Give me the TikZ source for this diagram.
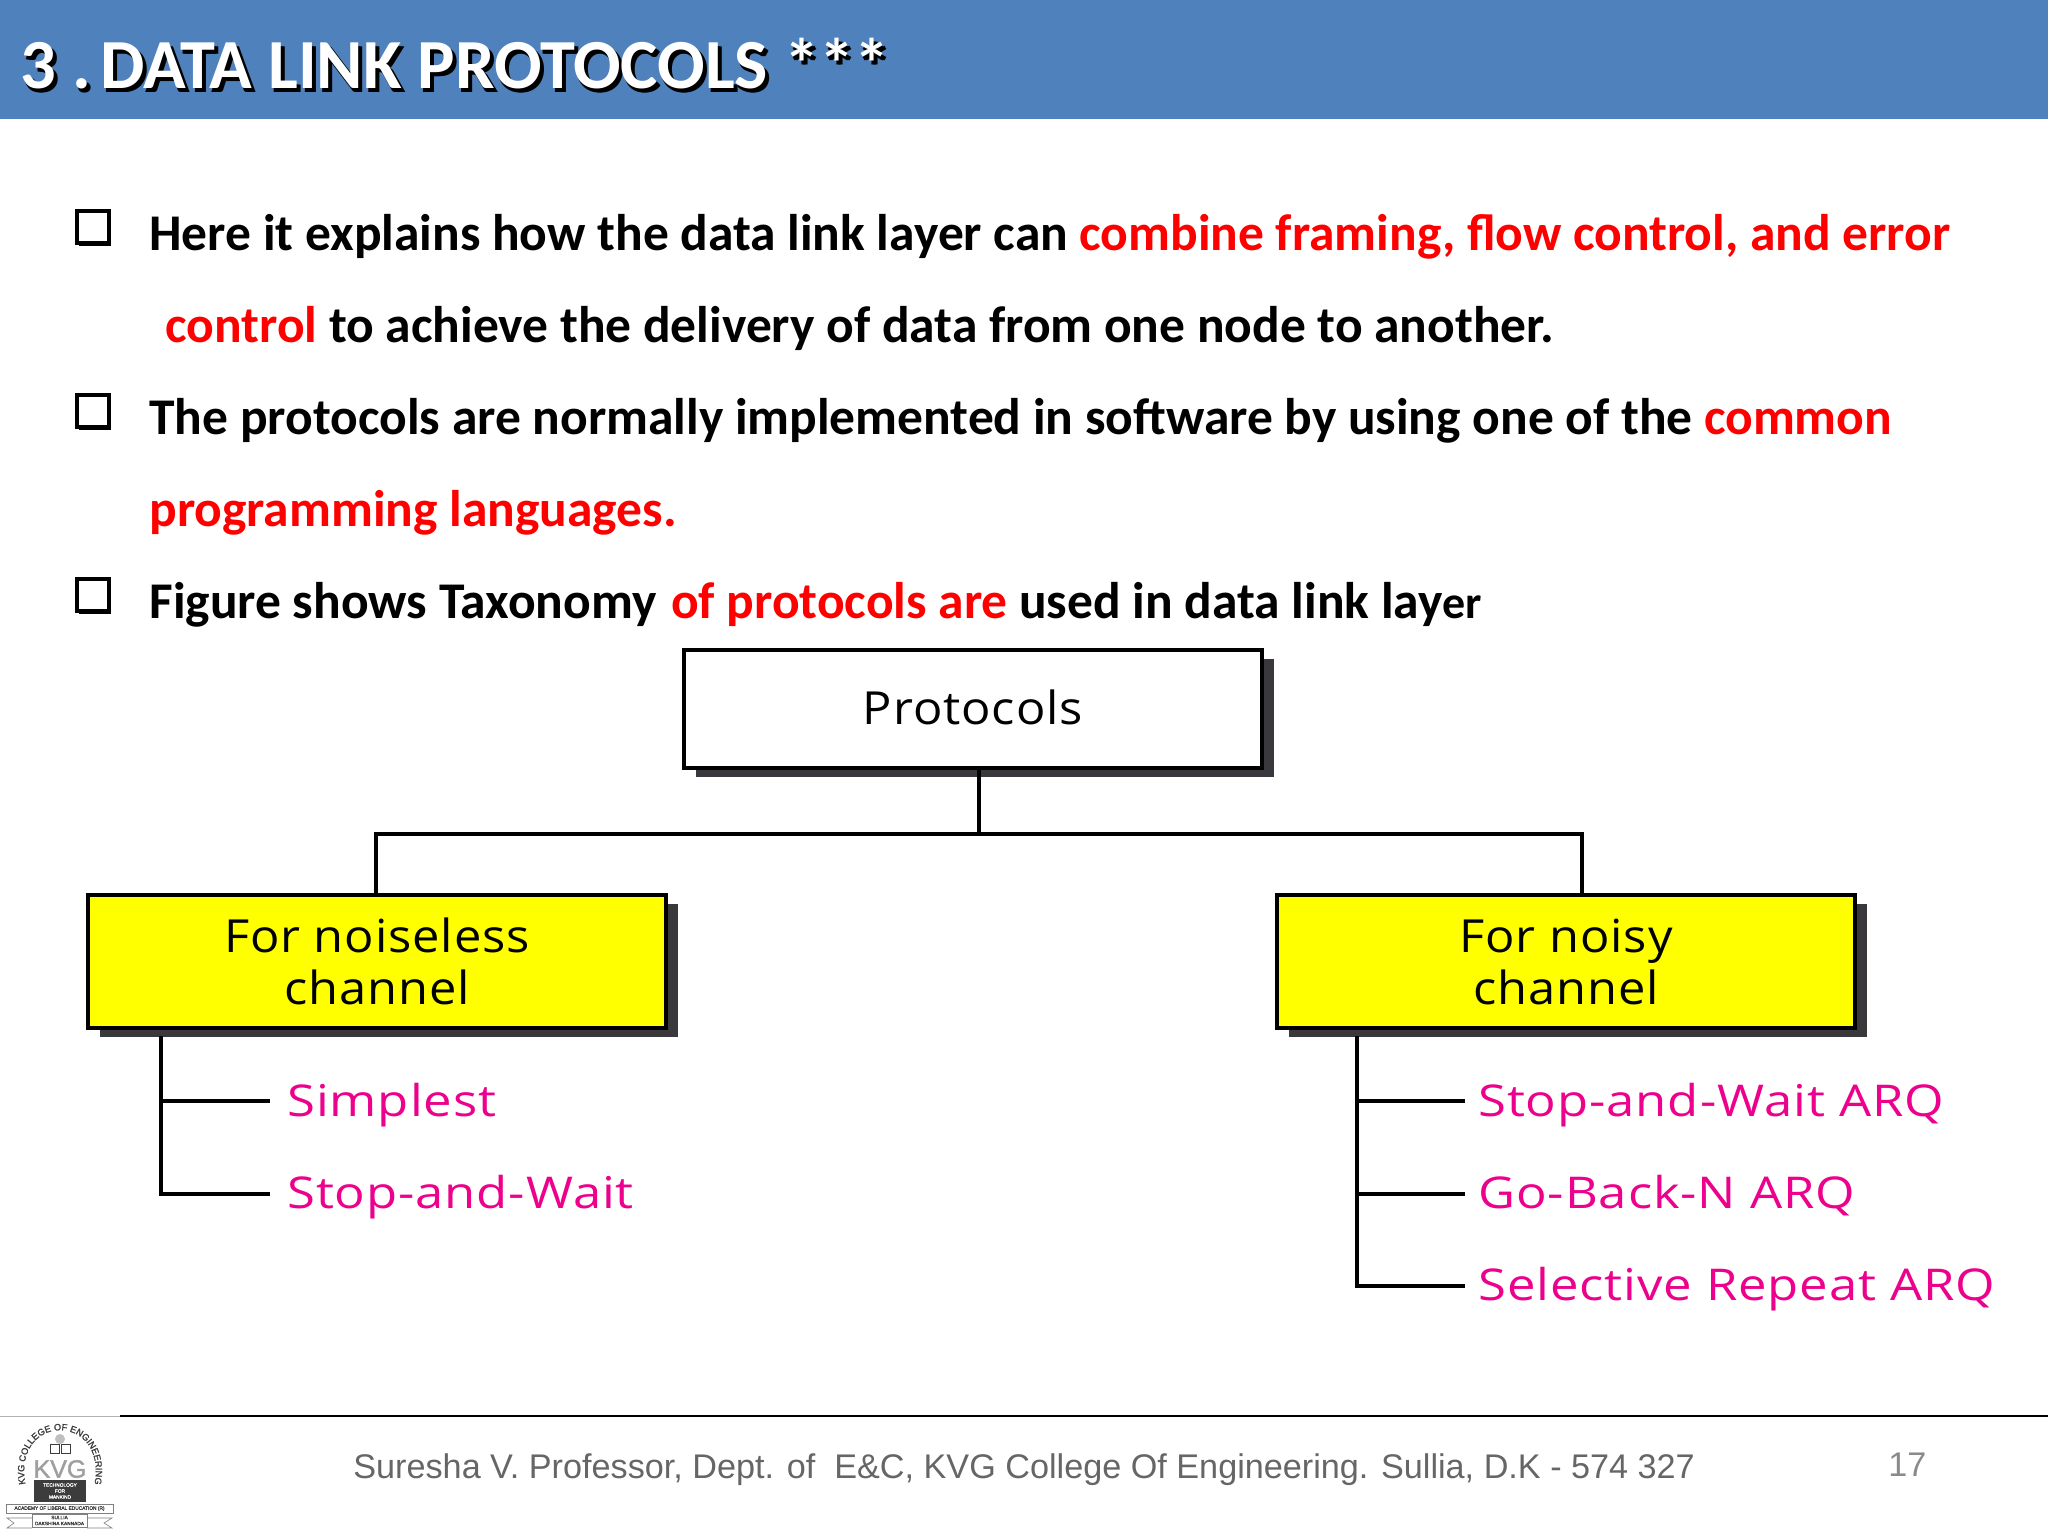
\documentclass[tikz,border=0pt]{standalone}
\usepackage{fontspec}
\usetikzlibrary{shadows,decorations.text}
\setmainfont{Carlito}
\newfontfamily\boxf{Open Sans}[LetterSpace=2,FakeStretch=1.07]
\newfontfamily\leaff{Open Sans}[LetterSpace=2,FakeStretch=1.16]
\newfontfamily\footf{Liberation Sans}
\newfontfamily\logof{Liberation Sans}[FakeBold=1.5]
\newcommand{\titlestr}{3 .\kern-3pt\ DATA LINK PROTOCOLS ***}
\definecolor{bandc}{HTML}{4F81BD}
\definecolor{redt}{HTML}{FF0000}
\definecolor{pinkt}{HTML}{EC008C}
\definecolor{shadowc}{HTML}{3A383C}
\definecolor{yellowc}{HTML}{FFFF00}
\definecolor{footc}{HTML}{666666}
\definecolor{numc}{HTML}{8A8A8A}
\definecolor{logoc}{HTML}{3C3C3C}
\tikzset{
  x=0.5pt,y=-0.5pt,
  bodytext/.style={anchor=base west,inner sep=0pt,font=\fontsize{25.75}{30}\selectfont\bfseries,text=black},
  titletext/.style={anchor=base west,inner sep=0pt,font=\fontsize{35.2}{42}\selectfont\bfseries},
  chartbox/.style={draw=black,line width=2.2pt,minimum width=289pt,align=center,inner sep=0pt,
     font=\boxf\fontsize{22.8}{26}\selectfont,
     drop shadow={shadow xshift=6.2pt,shadow yshift=-4.5pt,opacity=1,fill=shadowc}},
  leaf/.style={anchor=base west,inner sep=0pt,text=pinkt,font=\leaff\fontsize{21.9}{26}\selectfont},
  wire/.style={draw=black,line width=2.4pt},
  bulletbox/.style={draw=black,fill=white,line width=1.8pt,minimum width=16pt,minimum height=16pt,inner sep=0pt,
     drop shadow={shadow xshift=1pt,shadow yshift=-1.6pt,opacity=1,fill=black}},
  logotext/.style={inner sep=0pt,text=logoc,font=\logof\fontsize{2.4}{3}\selectfont},
}
\begin{document}
\begin{tikzpicture}
\useasboundingbox (0,0) rectangle (2048,1536);
\fill[white] (0,0) rectangle (2048,1536);
\fill[bandc] (0,0) rectangle (2048,119);
% title
\node[titletext,text=black] (titleshadeb) at (24,93) {\titlestr};
\node[titletext,text=black] (titleshade) at (22,92) {\titlestr};
\node[titletext,text=white] (title) at (20,89) {\titlestr};
% bullets
\node[bulletbox] (b1) at (93,227) {};
\node[bulletbox] (b2) at (93,411) {};
\node[bulletbox] (b3) at (93,595) {};
% body
\node[bodytext] (l1) at (149,250) {Here it explains how the data link layer can \textcolor{redt}{combine framing, flow control, and error}};
\node[bodytext] (l2) at (165,342) {\textcolor{redt}{control} to achieve the delivery of data from one node to another.};
\node[bodytext] (l3) at (149,434) {The protocols are normally implemented in software by using one of the \textcolor{redt}{common}};
\node[bodytext] (l4) at (149,526) {\textcolor{redt}{programming languages.}};
\node[bodytext] (l5) at (149,618) {Figure shows Taxonomy\kern1.5pt\ \textcolor{redt}{of protocols are} used in data link lay{\fontsize{23}{26}\selectfont er}};
% chart
\node[chartbox,fill=white,minimum height=59pt] (proto) at (973,709) {\raisebox{1.8pt}{Protocols}};
\node[chartbox,fill=yellowc,minimum height=66.5pt] (noiseless) at (377,961.5) {For noiseless\\channel};
\node[chartbox,fill=yellowc,minimum height=66.5pt] (noisy) at (1566,961.5) {For noisy\\channel};
\coordinate (hub) at (979,834);
\coordinate (hl) at (376,834);
\coordinate (hr) at (1582,834);
\draw[wire] (979,768) -- (hub);
\draw[wire,line cap=rect] (hl) -- (hr);
\draw[wire] (hl) -- (376,895);
\draw[wire] (hr) -- (1582,895);
% leaves
\node[leaf] (s1) at (287,1116) {Simplest};
\node[leaf] (s2) at (287,1208) {Stop-and-Wait};
\node[leaf] (n1) at (1478,1116) {Stop-and-Wait ARQ};
\node[leaf] (n2) at (1478,1208) {Go-Back-N ARQ};
\node[leaf] (n3) at (1478,1300) {Selective Repeat ARQ};
\coordinate (ta) at (161,1038);
\coordinate (tb) at (161,1194);
\coordinate (ua) at (1357,1038);
\coordinate (ub) at (1357,1286);
\draw[wire,line cap=rect] (ta) -- (tb);
\draw[wire,line cap=rect] (ua) -- (ub);
\draw[wire] (161,1101) -- (270,1101);
\draw[wire] (tb) -- (270,1194);
\draw[wire] (1357,1101) -- (1465,1101);
\draw[wire] (1357,1194) -- (1465,1194);
\draw[wire] (ub) -- (1465,1286);
% footer
\draw[black,line width=1pt] (120,1416) -- (2048,1416);
\draw[gray!60,line width=.5pt] (0,1416) -- (120,1416);
\node[anchor=base west,inner sep=0pt,text=footc,font=\footf\fontsize{17.1}{21}\selectfont] (foot) at (353,1478) {Suresha V. Professor, Dept. of\ \ E\&C, KVG College Of Engineering. Sullia, D.K - 574 327};
\node[anchor=base west,inner sep=0pt,text=numc,font=\footf\fontsize{17.1}{21}\selectfont] (page) at (1888,1476) {17};
% logo
\path[decorate,decoration={text along path,text align=center,text={|\logof\fontsize{4.6}{5}\selectfont\color{logoc}|KVG COLLEGE OF ENGINEERING}}]
  (27,1491) .. controls (6,1410) and (114,1410) .. (93,1491);
\node[inner sep=0pt,text=gray!75,font=\logof\fontsize{12.5}{14}\selectfont] (kvg) at (60,1469) {KVG};
\draw[logoc,line width=.5pt] (50,1444) rectangle (59,1453) (61,1444) rectangle (70,1453);
\fill[gray!50] (60,1439) circle (5);
\fill[logoc] (34,1480) rectangle (86,1502);
\node[logotext,text=white,align=center] (tfm) at (60,1491) {TECHNOLOGY\\FOR\\MANKIND};
\draw[gray,line width=.3pt] (6,1504) rectangle (113,1513);
\node[logotext] (acad) at (59.5,1508.5) {ACADEMY OF LIBERAL EDUCATION (R)};
\draw[gray,line width=.3pt] (32,1514) rectangle (87,1527);
\node[logotext,align=center] (sul) at (59.5,1520.5) {SULLIA\\DAKSHINA KANNADA};
\draw[gray,line width=.3pt] (32,1518) -- (7,1518) -- (14,1523) -- (7,1528) -- (32,1528);
\draw[gray,line width=.3pt] (87,1518) -- (112,1518) -- (104,1523) -- (112,1528) -- (87,1528);
\end{tikzpicture}
\end{document}
